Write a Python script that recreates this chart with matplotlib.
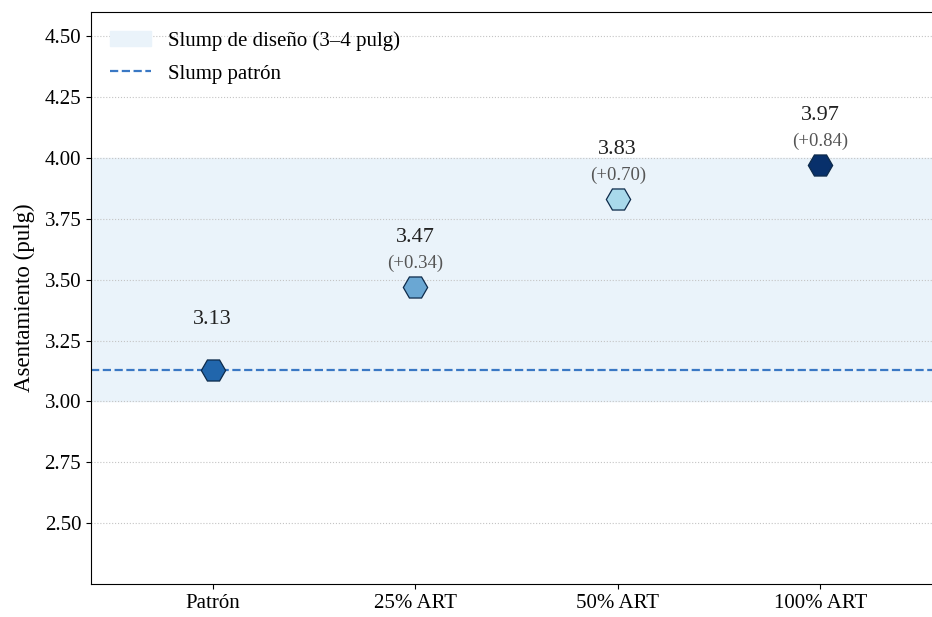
import matplotlib.pyplot as plt
import numpy as np

plt.rcParams['font.family'] = ['Liberation Serif', 'DejaVu Serif']

mezclas = ["Patrón", "25% ART", "50% ART", "100% ART"]
slump = [3.13, 3.47, 3.83, 3.97]
colores = ["#2166ac", "#6aa7d3", "#a9d9eb", "#08306b"]

base = slump[0]
x = np.arange(len(mezclas))

fig = plt.figure(figsize=(9.32, 6.17), dpi=100)
ax = fig.add_axes([0.0976, 0.0535, 0.913, 0.927])

ax.axhspan(3.0, 4.0, color="#eaf3fa", zorder=0, label="Slump de diseño (3–4 pulg)")
ax.axhline(base, color="#3a78c4", ls="--", lw=1.6, zorder=1, label="Slump patrón")

for i, v in enumerate(slump):
    ax.plot(x[i], v, marker="H", ms=17.5, color=colores[i], mec="#0d2a4a", mew=0.9,
            ls="none", zorder=3)
    ax.annotate(f"{v:.2f}", (x[i], v), xytext=(0, 36), textcoords="offset points",
                ha="center", va="center", fontsize=16, color="#222222")
    if i > 0:
        ax.annotate(f"(+{v - base:.2f})", (x[i], v), xytext=(0, 17), textcoords="offset points",
                    ha="center", va="center", fontsize=13.5, color="#555555")

ax.set_xlim(-0.6, 3.6)
ax.set_ylim(2.25, 4.60)
ax.set_xticks(x)
ax.set_xticklabels(mezclas, fontsize=15)
ax.set_yticks(np.arange(2.5, 4.51, 0.25))
ax.set_yticklabels([f"{t:.2f}" for t in np.arange(2.5, 4.51, 0.25)], fontsize=15)
ax.set_ylabel("Asentamiento (pulg)", fontsize=16.5, labelpad=7)
ax.grid(axis="y", ls=":", color="#c4c4c4", lw=0.8, zorder=0.5)
ax.set_axisbelow(True)
ax.spines["right"].set_visible(False)

ax.legend(loc="upper left", frameon=False, fontsize=15, labelspacing=0.65)

fig.savefig("out.png", dpi=100)
